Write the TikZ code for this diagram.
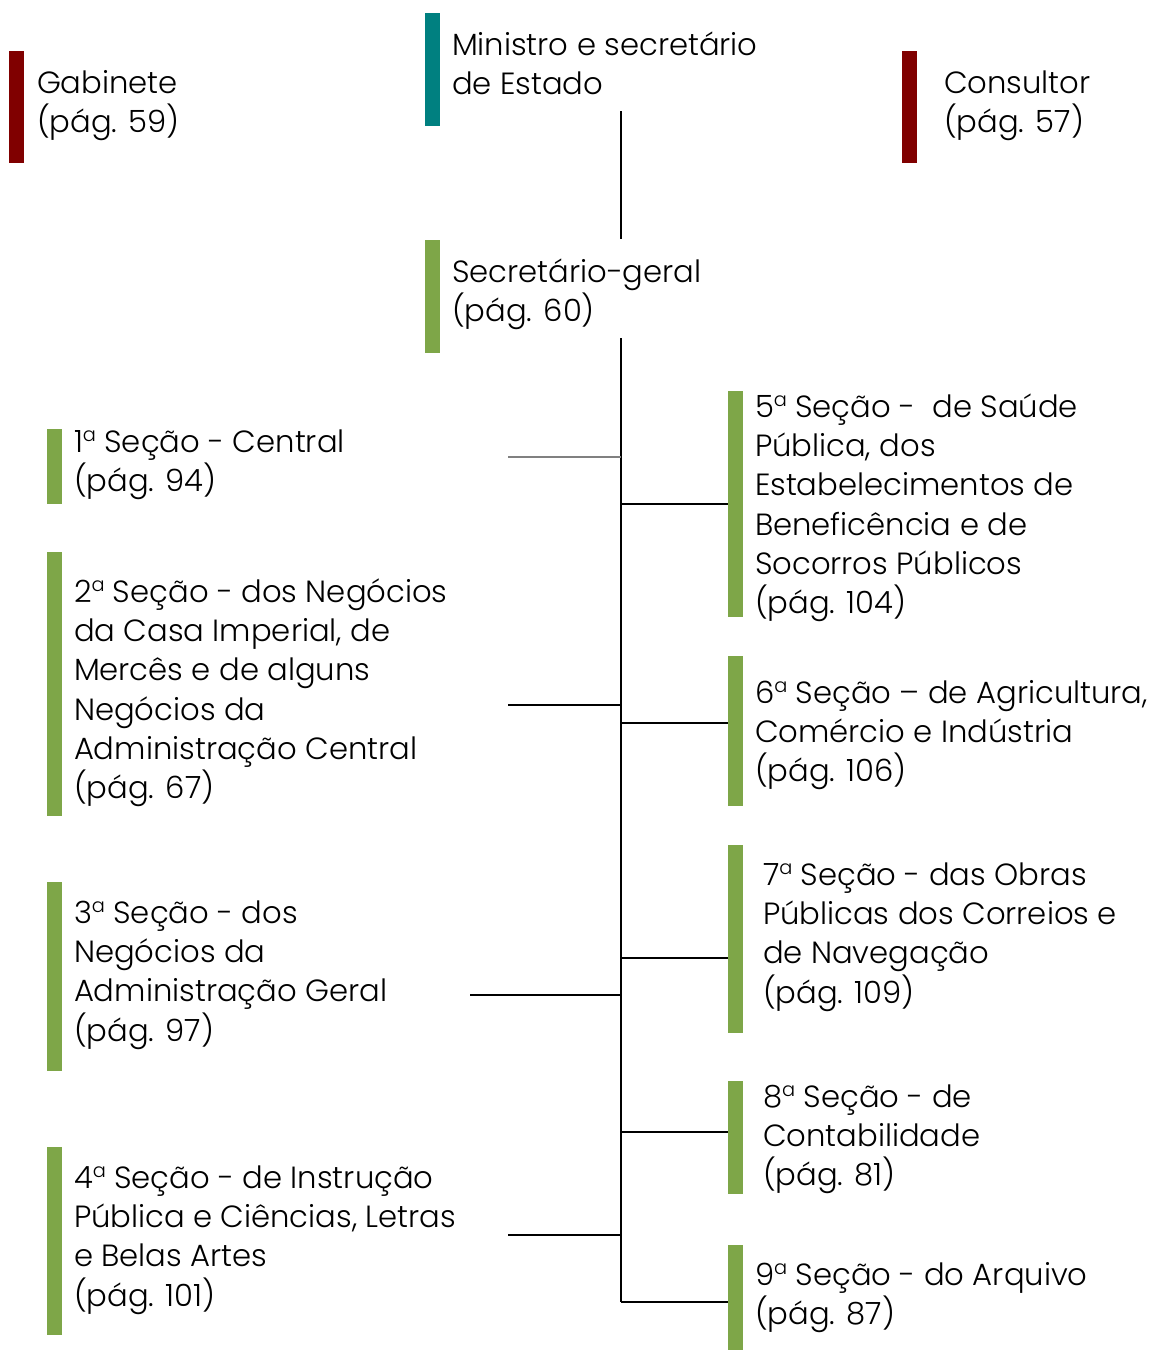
\documentclass[tikz,border=0pt]{standalone}
\usepackage{fontspec}
\setmainfont{Poppins Light}
\definecolor{barred}{RGB}{128,0,0}
\definecolor{barteal}{RGB}{0,128,128}
\definecolor{bargreen}{RGB}{126,166,72}
\newcommand\mystack[1]{\vtop{\lineskiplimit=-100pt\def\\{\egroup\hbox\bgroup}\hbox\bgroup#1\egroup}}
\newcommand\ordA{\raisebox{8.2pt}{\fontsize{14.5pt}{14.5pt}\selectfont a}}
\tikzset{
  bar/.style={fill=#1, draw=none, minimum width=11.25pt, inner sep=0pt, outer sep=0pt, anchor=north west},
  lbl/.style={anchor=base west, inner sep=0pt, outer sep=0pt, text=black, font=\fontsize{23pt}{29.5pt}\selectfont},
  conn/.style={draw=black, line width=0.8pt},
  conngray/.style={draw=gray, line width=1.1pt}
}
\begin{document}
\begin{tikzpicture}[x=0.75pt,y=-0.75pt]
\useasboundingbox (0,0) rectangle (1158,1350);
% bars
\node[bar=barred,  minimum height={0.75pt*112}] (bgab) at (9,51) {};
\node[bar=barteal, minimum height={0.75pt*113}] (bmin) at (425,13) {};
\node[bar=barred,  minimum height={0.75pt*112}] (bcon) at (902,51) {};
\node[bar=bargreen,minimum height={0.75pt*113}] (bsec) at (425,240) {};
\node[bar=bargreen,minimum height={0.75pt*75}]  (b1) at (47,429) {};
\node[bar=bargreen,minimum height={0.75pt*264}] (b2) at (47,552) {};
\node[bar=bargreen,minimum height={0.75pt*189}] (b3) at (47,882) {};
\node[bar=bargreen,minimum height={0.75pt*188}] (b4) at (47,1147) {};
\node[bar=bargreen,minimum height={0.75pt*226}] (b5) at (728,391) {};
\node[bar=bargreen,minimum height={0.75pt*150}] (b6) at (728,656) {};
\node[bar=bargreen,minimum height={0.75pt*188}] (b7) at (728,845) {};
\node[bar=bargreen,minimum height={0.75pt*113}] (b8) at (728,1081) {};
\node[bar=bargreen,minimum height={0.75pt*105}] (b9) at (728,1245) {};
% labels
\node[lbl] (tgab) at (37,93) {\mystack{Gabinete\\(p\'ag. 59)}};
\node[lbl] (tmin) at (452,55) {\mystack{Ministro e secret\'ario\\de Estado}};
\node[lbl] (tcon) at (944,93) {\mystack{Consultor\\(p\'ag. 57)}};
\node[lbl] (tsec) at (452,282) {\mystack{Secret\'ario-geral\\(p\'ag. 60)}};
\node[lbl] (t1) at (74,452) {\mystack{1\ordA{} Se\c{c}\~ao - Central\\(p\'ag. 94)}};
\node[lbl] (t2) at (74,602) {\mystack{2\ordA{} Se\c{c}\~ao - dos Neg\'ocios\\da Casa Imperial, de\\Merc\^es e de alguns\\Neg\'ocios da\\Administra\c{c}\~ao Central\\(p\'ag. 67)}};
\node[lbl] (t3) at (74,923) {\mystack{3\ordA{} Se\c{c}\~ao - dos\\Neg\'ocios da\\Administra\c{c}\~ao Geral\\(p\'ag. 97)}};
\node[lbl] (t4) at (74,1188) {\mystack{4\ordA{} Se\c{c}\~ao - de Instru\c{c}\~ao\\P\'ublica e Ci\^encias, Letras\\e Belas Artes\\(p\'ag. 101)}};
\node[lbl] (t5) at (755,417) {\mystack{5\ordA{} Se\c{c}\~ao -\ \ de Sa\'ude\\P\'ublica, dos\\Estabelecimentos de\\Benefic\^encia e de\\Socorros P\'ublicos\\(p\'ag. 104)}};
\node[lbl] (t6) at (755,703) {\mystack{6\ordA{} Se\c{c}\~ao -- de Agricultura,\\Com\'ercio e Ind\'ustria\\(p\'ag. 106)}};
\node[lbl] (t7) at (763,885) {\mystack{7\ordA{} Se\c{c}\~ao - das Obras\\P\'ublicas dos Correios e\\de Navega\c{c}\~ao\\(p\'ag. 109)}};
\node[lbl] (t8) at (763,1107) {\mystack{8\ordA{} Se\c{c}\~ao - de\\Contabilidade\\(p\'ag. 81)}};
\node[lbl] (t9) at (755,1285) {\mystack{9\ordA{} Se\c{c}\~ao - do Arquivo\\(p\'ag. 87)}};
% trunk
\coordinate (ta) at (621,111);
\coordinate (tb) at (621,239);
\coordinate (tc) at (621,338);
\coordinate (td) at (621,1302);
\draw[conn] (ta) -- (tb);
\draw[conn] (tc) -- (td);
% left connectors
\coordinate (l1) at (508,457);
\coordinate (l2) at (508,705);
\coordinate (l3) at (470,995);
\coordinate (l4) at (508,1235);
\draw[conngray] (l1) -- (l1 -| tc);
\draw[conn] (l2) -- (l2 -| tc);
\draw[conn] (l3) -- (l3 -| tc);
\draw[conn] (l4) -- (l4 -| tc);
% right connectors
\coordinate (r5) at (621,504);
\coordinate (r6) at (621,723);
\coordinate (r7) at (621,958);
\coordinate (r8) at (621,1132);
\coordinate (r9) at (621,1302);
\draw[conn] (r5) -- (r5 -| b5.west);
\draw[conn] (r6) -- (r6 -| b6.west);
\draw[conn] (r7) -- (r7 -| b7.west);
\draw[conn] (r8) -- (r8 -| b8.west);
\draw[conn] (r9) -- (r9 -| b9.west);
\end{tikzpicture}
\end{document}
